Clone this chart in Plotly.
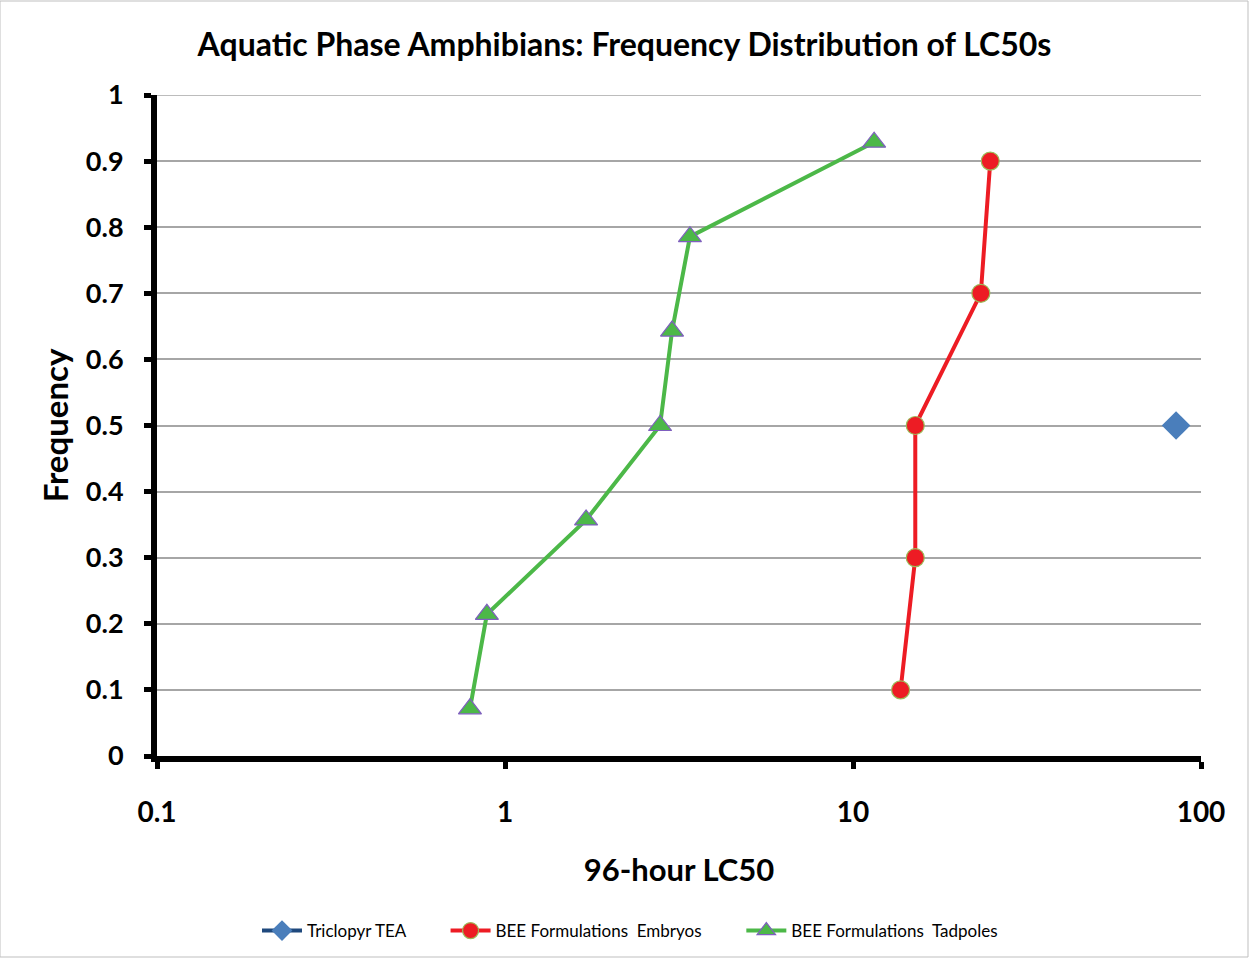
import plotly.graph_objects as go

# Data
tea_x = [84.8]
tea_y = [0.5]
emb_x = [13.7, 15.1, 15.1, 23.3, 24.8]
emb_y = [0.1, 0.3, 0.5, 0.7, 0.9]
tad_x = [0.793, 0.887, 1.71, 2.79, 3.02, 3.40, 11.5]
tad_y = [0.0714, 0.2143, 0.3571, 0.5, 0.6429, 0.7857, 0.9286]
x_tickvals = [0.1, 1, 10, 100]
x_ticktext = ["0.1", "1", "10", "100"]

FONT = "Lato"
PAD = "\u00a0" * 8

fig = go.Figure()
fig.add_trace(go.Scatter(
    x=tea_x, y=tea_y, mode="lines+markers", name="Triclopyr TEA" + PAD,
    line=dict(color="#1f497d", width=4),
    marker=dict(symbol="diamond", size=22, color="#4a7ebb", line=dict(width=0)),
))
fig.add_trace(go.Scatter(
    x=emb_x, y=emb_y, mode="lines+markers", name="BEE Formulations  Embryos" + PAD,
    line=dict(color="#ed1c24", width=4),
    marker=dict(symbol="circle", size=18, color="#ed1c24", line=dict(width=1.2, color="#9bbb59")),
))
fig.add_trace(go.Scatter(
    x=tad_x, y=tad_y, mode="lines+markers", name="BEE Formulations  Tadpoles",
    line=dict(color="#4cb848", width=4),
    marker=dict(symbol="triangle-up", size=20, color="#4cb848", line=dict(width=1.2, color="#7f5fbf")),
))

fig.update_layout(
    width=1249, height=958,
    margin=dict(l=157, r=48, t=95, b=202, autoexpand=False),
    paper_bgcolor="white", plot_bgcolor="white",
    font=dict(family=FONT, color="black"),
    title=dict(text="<b>Aquatic Phase Amphibians: Frequency Distribution of LC50s</b>",
               x=0.5, xanchor="center", y=1 - 45 / 958, yanchor="middle",
               font=dict(size=32, family=FONT, color="black")),
    showlegend=True,
    legend=dict(orientation="h", x=(630 - 157) / 1044, xanchor="center", y=-(931 - 756) / 661, yanchor="middle",
                font=dict(size=17, family=FONT, color="black"), itemwidth=40,
                bgcolor="rgba(0,0,0,0)"),
    shapes=[
        dict(type="rect", xref="paper", yref="paper",
             x0=-157 / 1044, x1=(1249 - 157 - 1) / 1044,
             y0=-(958 - 756 - 1) / 661, y1=(756 - 1) / 661,
             line=dict(color="#bfbfbf", width=1), layer="below"),
        dict(type="line", xref="paper", yref="y", x0=0, x1=1, y0=1, y1=1,
             line=dict(color="#a6a6a6", width=1.5), layer="below"),
    ],
)

fig.update_xaxes(
    type="log", range=[-1, 2],
    tickvals=x_tickvals, ticktext=x_ticktext,
    showgrid=False, zeroline=False,
    showline=True, linecolor="black", linewidth=6,
    ticks="outside", ticklen=7, tickwidth=5, tickcolor="black",
    tickfont=dict(size=28, family=FONT, color="black", weight="bold"),
    ticklabelstandoff=19,
    title=dict(text="<b>96-hour LC50</b>", font=dict(size=31, family=FONT, color="black"), standoff=35),
)
fig.update_yaxes(
    range=[0, 1], dtick=0.1, tick0=0,
    showgrid=True, gridcolor="#a6a6a6", gridwidth=1.5,
    zeroline=False,
    showline=True, linecolor="black", linewidth=6,
    ticks="outside", ticklen=7, tickwidth=5, tickcolor="black",
    tickfont=dict(size=27, family=FONT, color="black", weight="bold"),
    ticklabelstandoff=15,
    title=dict(text="<b>Frequency</b>", font=dict(size=33, family=FONT, color="black"), standoff=9),
)

fig.write_html("out.html")
